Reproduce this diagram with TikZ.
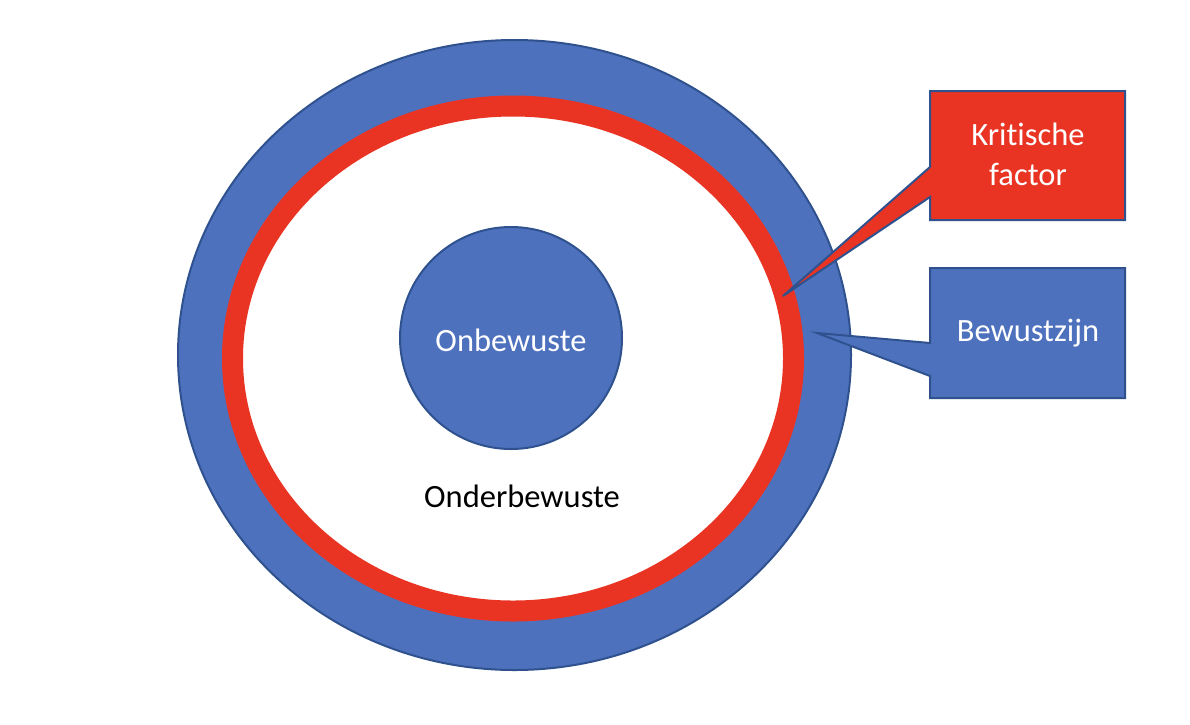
\documentclass[tikz,border=0pt]{standalone}
\usepackage{fontspec}
\setmainfont[Ligatures={NoCommon}]{Carlito}
\definecolor{fillblue}{HTML}{4E71BE}
\definecolor{lineblue}{HTML}{2F528F}
\definecolor{ringred}{HTML}{E93323}
\begin{document}
\begin{tikzpicture}[x=1pt,y=-1pt,
  outl/.style={draw=lineblue,line width=2pt},
  lbl/.style={font=\fontsize{32.5}{40}\selectfont,align=center,inner sep=0pt},
  whitelbl/.style={lbl,text=white}]
\useasboundingbox[fill=white] (0,0) rectangle (1190,724);
% outer blue ellipse (Bewustzijn)
\path[outl,fill=fillblue] (514.5,355) ellipse [x radius=336.5,y radius=315];
% red ring (Kritische factor) with white interior (Onderbewuste)
\path[draw=ringred,fill=white,line width=21pt] (513,358.5) ellipse [x radius=280.5,y radius=252.5];
% inner circle (Onbewuste)
\node[outl,fill=fillblue,circle,minimum size=222pt,inner sep=0pt] (onb) at (511,338) {};
\node[whitelbl] (onbt) at (511,340) {Onbewuste};
\node[lbl] (ond) at (522,496) {Onderbewuste};
% callout: Kritische factor
\coordinate (kftip) at (783,296);
\path[outl,fill=ringred] (930,91) -- (1125,91) -- (1125,220) -- (930,220) -- (930,197) -- (kftip) -- (930,167) -- cycle;
\node[whitelbl] (kf) at (1028,154) {Kritische\\factor};
% callout: Bewustzijn
\coordinate (bwtip) at (817,333);
\path[outl,fill=fillblue] (930,268) -- (1125,268) -- (1125,398) -- (930,398) -- (930,376) -- (bwtip) -- (930,343) -- cycle;
\node[whitelbl] (bw) at (1028,333) {Bewustzijn};
\end{tikzpicture}
\end{document}
